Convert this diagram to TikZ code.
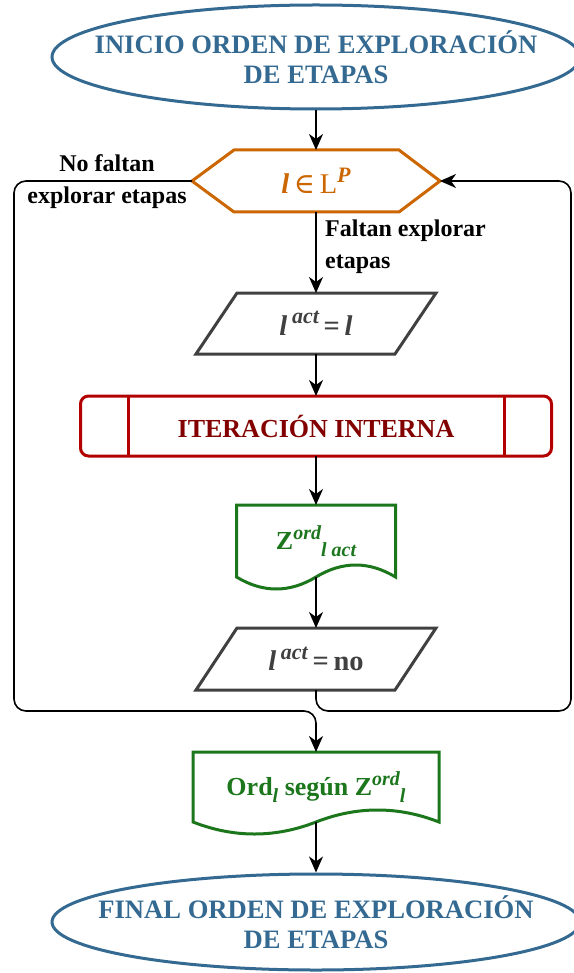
\documentclass[tikz,border=0pt]{standalone}
\usepackage{fontspec}
\setmainfont{Liberation Serif}
\newfontfamily\symfont{DejaVu Serif}
\usetikzlibrary{shapes.geometric,arrows.meta,calc}

\definecolor{termblue}{RGB}{52,105,145}
\definecolor{decorange}{RGB}{204,102,0}
\definecolor{iogray}{RGB}{64,64,64}
\definecolor{procred}{RGB}{178,0,0}
\definecolor{proctext}{RGB}{130,0,0}
\definecolor{docgreen}{RGB}{28,118,28}

% raised and lowered indices in the text font
\newcommand\hi[1]{\raisebox{0.40em}{\fontsize{20}{20}\selectfont #1}}
\newcommand\lo[1]{\raisebox{-0.28em}{\fontsize{20}{20}\selectfont #1}}
\newcommand\hibig[1]{\raisebox{0.40em}{\fontsize{22}{22}\selectfont #1}}

\begin{document}
\begin{tikzpicture}[x=1pt,y=-1pt,
  txt/.style={font=\bfseries\fontsize{26}{30}\selectfont, align=center, inner sep=0pt},
  bigtxt/.style={font=\bfseries\fontsize{28.5}{32}\selectfont},
  termtxt/.style={font=\bfseries\fontsize{26.6}{30}\selectfont},
  lbl/.style={font=\bfseries\fontsize{24}{32}\selectfont, inner sep=0pt},
  holder/.style={rectangle, inner sep=0pt, outer sep=0pt, txt},
  outline/.style={line width=3pt, line join=miter},
  flow/.style={line width=1.6pt, draw=black, -{Stealth[length=16pt,width=14pt,inset=5pt]}},
]
\useasboundingbox (0,0) rectangle (573,973);

% start terminator
\node[ellipse, draw=termblue, line width=3pt, minimum width=528pt, minimum height=104pt, inner sep=0pt] (startshape) at (316,57) {};
\node[txt, termtxt, text=termblue] (starttext) at (startshape.center) {INICIO ORDEN DE EXPLORACIÓN\\DE ETAPAS};

% decision
\node[holder, bigtxt, minimum width=248pt, minimum height=62pt, text=decorange] (hex) at (316,181)
  {{\itshape l}\,{\symfont\mdseries ∈}\,{\mdseries L}\hibig{\itshape P}};
\draw[decorange, outline] (hex.west) -- ($(hex.north west)+(42,0)$) -- ($(hex.north east)+(-41,0)$)
  -- (hex.east) -- ($(hex.south east)+(-41,0)$) -- ($(hex.south west)+(42,0)$) -- cycle;

% branch labels
\node[lbl, align=center] (nolbl) at (107,182) {No faltan\\explorar etapas};
\node[lbl, align=left, anchor=west] (yeslbl) at (325,247) {Faltan explorar\\etapas};

% first assignment
\node[holder, bigtxt, minimum width=240pt, minimum height=61pt, text=iogray] (p1) at (316,323.5)
  {{\itshape l}\,\hibig{\itshape act}\,=\,{\itshape l}};
\draw[iogray, outline] ($(p1.north west)+(41,0)$) -- (p1.north east) -- ($(p1.south east)+(-41,0)$)
  -- (p1.south west) -- cycle;

% predefined process
\node[rectangle, draw=procred, line width=3pt, rounded corners=8pt, minimum width=471pt,
  minimum height=60pt, outer sep=0pt, txt, text=proctext] (iter) at (316,426) {ITERACIÓN INTERNA};
\draw[procred, line width=3pt] ($(iter.north west)+(48,0)$) -- ($(iter.south west)+(48,0)$);
\draw[procred, line width=3pt] ($(iter.north east)+(-47,0)$) -- ($(iter.south east)+(-47,0)$);

% stage document
\node[holder, minimum width=159pt, minimum height=72pt, text=docgreen] (zact) at (316,541)
  {Z\hi{\itshape ord}\lo{\itshape l act}};
\draw[docgreen, outline] (zact.north west) -- (zact.north east) -- (zact.south east)
  .. controls +(-26.5,-16) and +(26.5,-16) .. (zact.south)
  .. controls +(-26.5,16) and +(26.5,16) .. (zact.south west) -- cycle;

% second assignment
\node[holder, bigtxt, minimum width=240pt, minimum height=62pt, text=iogray] (p2) at (316,659)
  {{\itshape l}\,\hibig{\itshape act}\,=\,no};
\draw[iogray, outline] ($(p2.north west)+(41,0)$) -- (p2.north east) -- ($(p2.south east)+(-41,0)$)
  -- (p2.south west) -- cycle;

% ordering document
\node[holder, minimum width=246pt, minimum height=70pt, text=docgreen] (ord) at (316,787)
  {Ord\lo{\itshape l} según Z\hi{\itshape ord}\lo{\itshape l}};
\draw[docgreen, outline] (ord.north west) -- (ord.north east) -- (ord.south east)
  .. controls +(-41,-16) and +(41,-16) .. (ord.south)
  .. controls +(-41,16) and +(41,16) .. (ord.south west) -- cycle;

% end terminator
\node[ellipse, draw=termblue, line width=3pt, minimum width=528pt, minimum height=96pt, inner sep=0pt] (endshape) at (316,922) {};
\node[txt, termtxt, text=termblue] (endtext) at (endshape.center) {FINAL ORDEN DE EXPLORACIÓN\\DE ETAPAS};

% main flow
\draw[flow] (startshape.south) -- (hex.north);
\draw[flow] (hex.south) -- (p1.north);
\draw[flow] (p1.south) -- (iter.north);
\draw[flow] (iter.south) -- (zact.north);
\draw[flow] (zact.south) -- (p2.north);
\draw[flow] (ord.south) -- (endshape.north);

% loops
\draw[flow, rounded corners=12pt] (hex.west) -- (14,181) -- (14,711) -- (316,711) -- (ord.north);
\draw[flow, rounded corners=12pt] (p2.south) -- (316,711) -- (571,711) -- (571,181) -- (hex.east);
\end{tikzpicture}
\end{document}
